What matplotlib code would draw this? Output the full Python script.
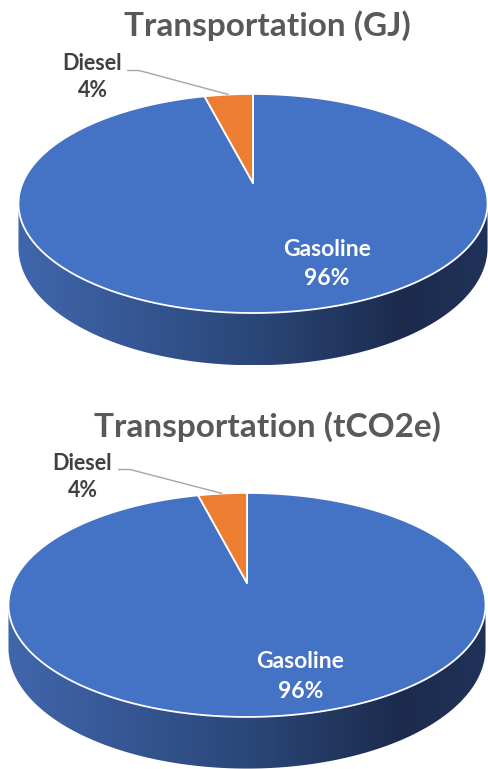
import numpy as np
import matplotlib
matplotlib.use("Agg")
import matplotlib.pyplot as plt
from matplotlib.patches import Polygon
from matplotlib.colors import LinearSegmentedColormap

# Fuel shares for transportation
categories = ["Gasoline", "Diesel"]
energy_gj = [96, 4]
emissions_tco2e = [96, 4]
titles = ["Transportation (GJ)", "Transportation (tCO2e)"]

slice_colors = ["#4472C4", "#ED7D31"]
label_colors = ["white", "#404040"]
FONT = ["Lato", "DejaVu Sans"]

W, H = 488, 769
fig = plt.figure(figsize=(W / 100, H / 100), dpi=100)
ax = fig.add_axes([0, 0, 1, 1])

side_cmap = LinearSegmentedColormap.from_list(
    "side", [(0.0, "#4066ac"), (0.5, "#2b4779"), (0.82, "#1c2b4d"), (1.0, "#203258")])


def make_projector(cx, cy, a, b, p, depth):
    """Perspective view of a flat disc: theta clockwise from 12 o'clock."""
    def proj(theta, r=1.0, z=0.0):
        theta = np.asarray(theta, dtype=float)
        u = r * np.sin(theta)
        v = r * np.cos(theta)
        k = 1.0 / (1.0 + p * v)
        return cx + a * u * k, cy - b * v * k + z * depth * k
    return proj


def convex_hull(points):
    pts = sorted(set(map(tuple, points)))
    def cross(o, a, b):
        return (a[0] - o[0]) * (b[1] - o[1]) - (a[1] - o[1]) * (b[0] - o[0])
    lower, upper = [], []
    for pt in pts:
        while len(lower) >= 2 and cross(lower[-2], lower[-1], pt) <= 0:
            lower.pop()
        lower.append(pt)
    for pt in reversed(pts):
        while len(upper) >= 2 and cross(upper[-2], upper[-1], pt) <= 0:
            upper.pop()
        upper.append(pt)
    return np.array(lower[:-1] + upper[:-1])


def label(x, y, s, color, size=16):
    ax.text(x, y, s, ha="center", va="baseline", fontsize=size, fontweight="bold",
            color=color, family=FONT, zorder=5)


def draw_pie3d(values, title, geom):
    proj = make_projector(*geom["disc"])
    t = np.linspace(0, 2 * np.pi, 721)

    # cylinder body: hull of top and bottom rims, shaded left to right
    tx, ty = proj(t)
    bx, by = proj(t, z=1.0)
    hull = convex_hull(np.round(np.column_stack([np.r_[tx, bx], np.r_[ty, by]]), 3))
    body = Polygon(hull, closed=True, facecolor="none", edgecolor="none")
    ax.add_patch(body)
    x0, x1 = hull[:, 0].min(), hull[:, 0].max()
    y0, y1 = hull[:, 1].min(), hull[:, 1].max()
    grad = np.linspace(0, 1, 256)[None, :]
    im = ax.imshow(grad, extent=(x0, x1, y1, y0), cmap=side_cmap, aspect="auto",
                   interpolation="bilinear", zorder=1)
    im.set_clip_path(body)

    # top face slices, clockwise from 12 o'clock
    total = float(sum(values))
    start = 0.0
    mids = []
    cx0, cy0 = proj(0.0, r=0.0)
    for val, col in zip(values, slice_colors):
        span = 2 * np.pi * val / total
        th = np.linspace(start, start + span, max(int(span / (2 * np.pi) * 720), 2))
        sx, sy = proj(th)
        xs = np.r_[cx0, sx]
        ys = np.r_[cy0, sy]
        ax.add_patch(Polygon(np.column_stack([xs, ys]), closed=True, facecolor=col,
                             edgecolor="white", linewidth=1.3, joinstyle="round",
                             zorder=2))
        mids.append(start + span / 2)
        start += span

    # title
    ax.text(geom["title_xy"][0], geom["title_xy"][1], title, ha="center", va="baseline",
            fontsize=24, fontweight="bold", color="#595959", family=FONT, zorder=5)

    # inside label for the large slice
    gx, gy1, gy2 = geom["inner_label"]
    label(gx, gy1, categories[0], label_colors[0], 16.5)
    label(gx, gy2, f"{values[0]:.0f}%", label_colors[0], 16.5)

    # outside label with leader line for the small slice
    lx, ly1, ly2 = geom["outer_label"]
    label(lx, ly1, categories[1], label_colors[1], 15.5)
    label(lx, ly2, f"{values[1]:.0f}%", label_colors[1], 15.5)
    ex, ey = proj(mids[1])
    kx, ky = geom["leader_start"]
    ax.plot([kx, kx + 12, ex], [ky, ky, ey], color="#a6a6a6", linewidth=1.0,
            solid_capstyle="butt", zorder=4)


panels = [
    dict(disc=(253, 183, 230.4, 105.7, 0.187, 42.5), title_xy=(267.5, 36),
         inner_label=(327, 256.5, 285), outer_label=(92.5, 70, 97),
         leader_start=(127, 70.5)),
    dict(disc=(247, 583, 233.9, 107.7, 0.196, 41.5), title_xy=(267.5, 437),
         inner_label=(300.5, 668, 698), outer_label=(82.5, 470, 497),
         leader_start=(118, 469.5)),
]

for vals, ttl, geom in zip([energy_gj, emissions_tco2e], titles, panels):
    draw_pie3d(vals, ttl, geom)

ax.set_xlim(0, W)
ax.set_ylim(H, 0)
ax.axis("off")
fig.savefig("out.png", dpi=100, facecolor="white")
